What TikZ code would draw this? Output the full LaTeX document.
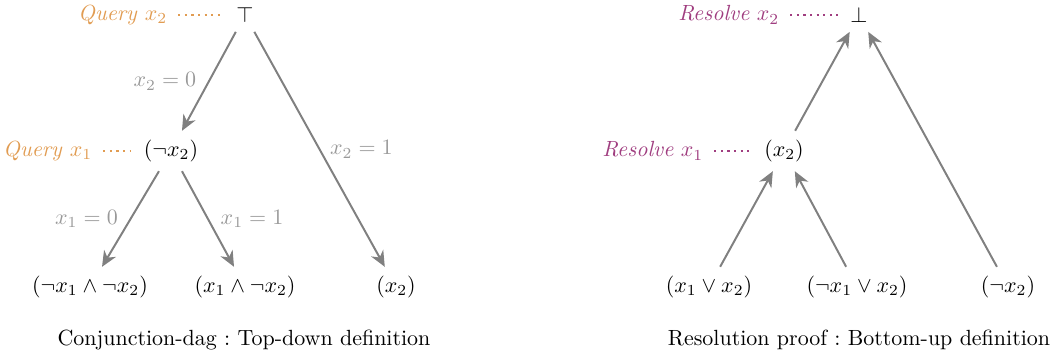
\documentclass[tikz,border=0pt]{standalone}
\usepackage{amsmath,amssymb}
\usetikzlibrary{arrows.meta}
\definecolor{qorange}{HTML}{E19C52}
\definecolor{rplum}{HTML}{A03E80}
\definecolor{edgegray}{HTML}{808080}
\definecolor{lblgray}{HTML}{999999}

\begin{document}
\begin{tikzpicture}[>={Stealth[length=2.5mm, width=2.2mm, inset=0.8mm]},
  clause/.style={inner sep=4pt},
  edge/.style={edgegray, line width=0.9pt, ->},
  lbl/.style={text=lblgray, font=\normalsize},
  query/.style={text=qorange, anchor=east},
  resolve/.style={text=rplum, anchor=east},
  leader/.style={line width=1pt, dotted, shorten <=1.5pt, shorten >=1.5pt}]

% Frame
\useasboundingbox (0,0) rectangle (16.912,5.76);

% ============================================================
% Left: conjunction-dag, top-down
% ============================================================
\node[clause] (top) at (3.92,5.52) {$\top$};
\node[clause] (nx2) at (2.736,3.344) {$(\neg x_2)$};
\node[clause] (lf1) at (1.44,1.168) {$(\neg x_1 \wedge \neg x_2)$};
\node[clause] (lf2) at (3.92,1.168) {$(x_1 \wedge \neg x_2)$};
\node[clause] (lf3) at (6.336,1.168) {$(x_2)$};

% Query labels with dotted leaders
\node[query] (qx2) at (2.80,5.52) {\textit{Query} $x_2$};
\node[query] (qx1) at (1.60,3.344) {\textit{Query} $x_1$};
\draw[qorange, leader] (qx2) -- (top);
\draw[qorange, leader] (qx1) -- (nx2);

% Branches
\draw[edge] (top) -- node[lbl, midway, left=2pt] {$x_2 = 0$} (nx2);
\draw[edge] (top) -- node[lbl, midway, right=1pt] {$x_2 = 1$} (lf3);
\draw[edge] (nx2) -- node[lbl, midway, left=2pt] {$x_1 = 0$} (lf1);
\draw[edge] (nx2) -- node[lbl, midway, right=2pt] {$x_1 = 1$} (lf2);

\node (capl) at (3.904,0.32) {Conjunction-dag :\ Top-down definition};

% ============================================================
% Right: resolution proof, bottom-up
% ============================================================
\node[clause] (bot) at (13.744,5.52) {$\bot$};
\node[clause] (rx2) at (12.544,3.344) {$(x_2)$};
\node[clause] (cl1) at (11.344,1.168) {$(x_1 \vee x_2)$};
\node[clause] (cl2) at (13.712,1.168) {$(\neg x_1 \vee x_2)$};
\node[clause] (cl3) at (16.128,1.168) {$(\neg x_2)$};

% Resolve labels with dotted leaders
\node[resolve] (rs2) at (12.592,5.52) {\textit{Resolve} $x_2$};
\node[resolve] (rs1) at (11.376,3.344) {\textit{Resolve} $x_1$};
\draw[rplum, leader] (rs2) -- (bot);
\draw[rplum, leader] (rs1) -- (rx2);

% Resolution steps
\draw[edge] (cl1) -- (rx2);
\draw[edge] (cl2) -- (rx2);
\draw[edge] (rx2) -- (bot);
\draw[edge] (cl3) -- (bot);

\node (capr) at (13.744,0.32) {Resolution proof :\ Bottom-up definition};

\end{tikzpicture}
\end{document}
